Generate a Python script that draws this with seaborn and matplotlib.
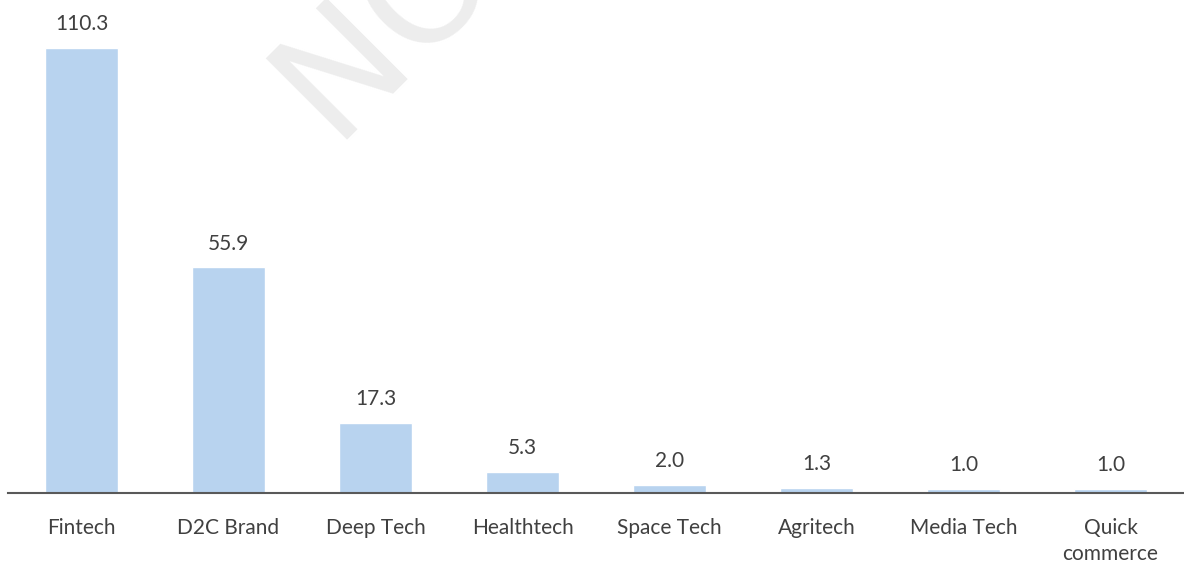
import matplotlib
matplotlib.use("Agg")
import matplotlib.pyplot as plt
import seaborn as sns
import pandas as pd

# 数据
categories = ["Fintech", "D2C Brand", "Deep Tech", "Healthtech", "Space Tech",
              "Agritech", "Media Tech", "Quick\ncommerce"]
values = [110.3, 55.9, 17.3, 5.3, 2.0, 1.3, 1.0, 1.0]

df = pd.DataFrame({"category": categories, "value": values})

sns.set_style("white")
plt.rcParams["font.family"] = ["Lato", "DejaVu Sans"]

fig = plt.figure(figsize=(11.84, 5.66), dpi=100)
ax = fig.add_axes([8 / 1184, 73 / 566, 1176 / 1184, 493 / 566])

# 水印 (参考图中被上边缘截断)
fig.text(332 / 1184, 1 - 140 / 566, "NO", rotation=45, rotation_mode="anchor",
         fontsize=112, color="#ededed", family="DejaVu Sans",
         ha="left", va="baseline", zorder=0)

sns.barplot(data=df, x="category", y="value", color="#b8d3ef", saturation=1,
            width=0.5, ax=ax, zorder=2)
ax.patch.set_alpha(0)

ax.bar_label(ax.containers[0], fmt="%.1f", padding=10, fontsize=15, color="#404040")

ax.set_xlim(-0.5, 7.5)
ax.set_ylim(0, 122.2)
ax.set_xlabel("")
ax.set_ylabel("")
ax.set_yticks([])
ax.tick_params(axis="x", length=0, pad=18, labelsize=15, labelcolor="#404040")
for t in ax.get_xticklabels():
    t.set_linespacing(1.35)
for s in ["top", "right", "left"]:
    ax.spines[s].set_visible(False)
ax.spines["bottom"].set_color("#595959")
ax.spines["bottom"].set_linewidth(1.5)

fig.savefig("out.png", dpi=100)
